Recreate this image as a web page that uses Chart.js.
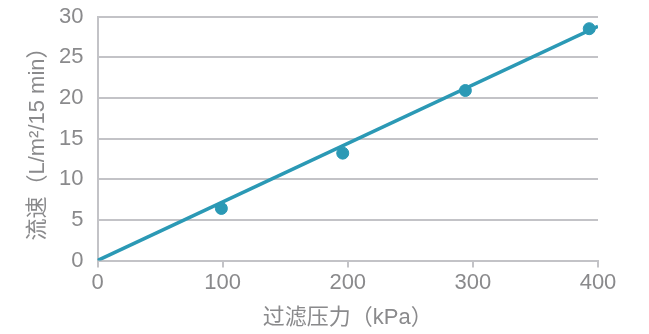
<!DOCTYPE html>
<html>
<head>
<meta charset="utf-8">
<script src="https://cdn.jsdelivr.net/npm/chart.js@4/dist/chart.umd.min.js"></script>
<style>
  html, body { margin: 0; padding: 0; background: #fff; }
  #wrap { width: 649px; height: 334px; position: relative; }
</style>
</head>
<body>
<div id="wrap"><canvas id="c" width="649" height="334"></canvas></div>
<script>
// Measured flow rate at each filtration pressure
const pressures = [99, 196, 294, 393];          // kPa
const flowRates = [6.4, 13.2, 20.9, 28.5];      // L/m²/15 min

// Trend line through the origin
const trendX = [0, 400];
const trendY = [0, 28.8];

const xTicks = [0, 100, 200, 300, 400];
const yTicks = [0, 5, 10, 15, 20, 25, 30];

const teal = '#2b99b5';
const gridGray = '#c3c3c7';
const textGray = '#8a8a8c';
const font = { family: '"Liberation Sans", "Noto Sans CJK SC", sans-serif', size: 22 };

// Fixed axis boxes so the plot area sits at a set place on the canvas
function fixBox(size) {
  return s => {
    if (s.isHorizontal()) { s.height = size; } else { s.width = size; }
    s.paddingTop = 0; s.paddingBottom = 0; s.paddingLeft = 0; s.paddingRight = 0;
  };
}

new Chart(document.getElementById('c'), {
  type: 'scatter',
  data: {
    datasets: [
      {
        type: 'line',
        data: trendX.map((x, i) => ({ x, y: trendY[i] })),
        borderColor: teal,
        borderWidth: 3.6,
        pointRadius: 0,
        fill: false,
        order: 2
      },
      {
        data: pressures.map((x, i) => ({ x, y: flowRates[i] })),
        backgroundColor: teal,
        borderColor: teal,
        pointRadius: 6,
        order: 1
      }
    ]
  },
  options: {
    responsive: false,
    animation: false,
    layout: { padding: { top: 16.5, right: 51, left: 0, bottom: 0 } },
    plugins: { legend: { display: false }, tooltip: { enabled: false } },
    scales: {
      x: {
        type: 'linear',
        min: 0, max: 400,
        afterBuildTicks: s => { s.ticks = xTicks.map(v => ({ value: v })); },
        afterFit: fixBox(73.5),
        grid: { drawOnChartArea: false, drawTicks: true, tickLength: 7, color: gridGray, lineWidth: 2 },
        border: { display: true, color: gridGray, width: 2 },
        ticks: { color: textGray, font, padding: 2, maxRotation: 0 },
        title: { display: true, text: '过滤压力（kPa）', color: textGray, font, padding: { top: 4, bottom: 3 } }
      },
      y: {
        min: 0, max: 30,
        afterBuildTicks: s => { s.ticks = yTicks.map(v => ({ value: v })); },
        afterFit: fixBox(97.5),
        grid: { drawTicks: false, color: gridGray, lineWidth: 2 },
        border: { display: true, color: gridGray, width: 2 },
        ticks: { color: textGray, font, padding: 14 },
        title: { display: true, text: '流速（L/m²/15 min）', color: textGray, font, padding: { top: 25, bottom: 6 } }
      }
    }
  }
});
</script>
</body>
</html>
